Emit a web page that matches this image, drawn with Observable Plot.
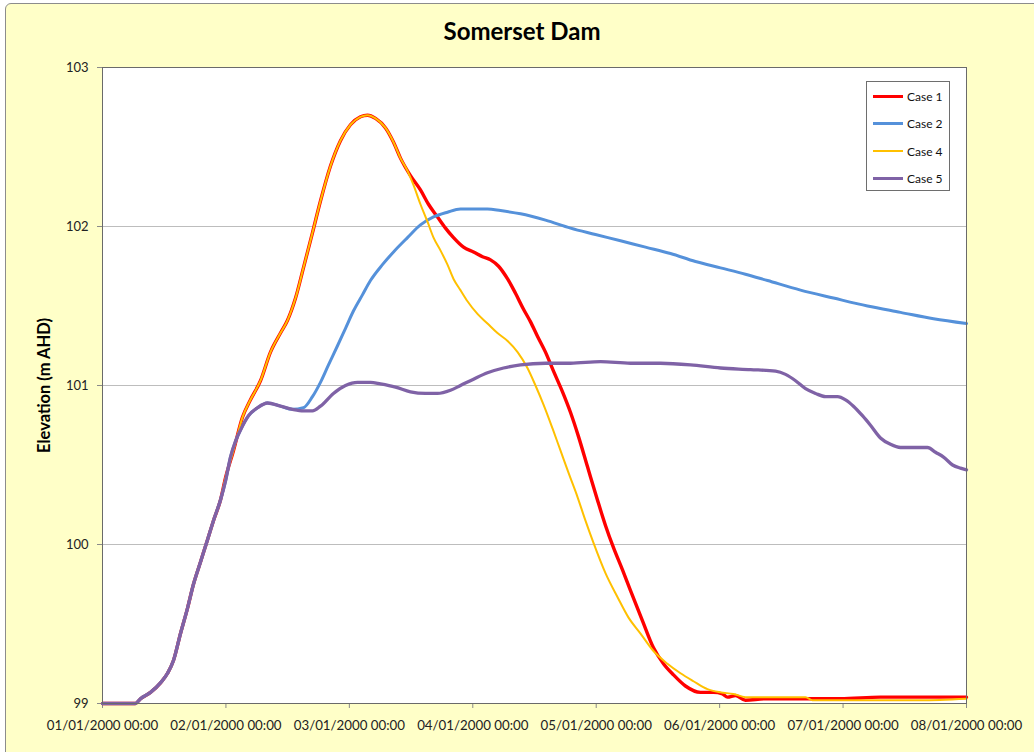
<!DOCTYPE html>
<html>
<head>
<meta charset="utf-8">
<script src="https://cdn.jsdelivr.net/npm/d3@7"></script>
<script src="https://cdn.jsdelivr.net/npm/@observablehq/plot@0.6"></script>
<style>
  html, body { margin: 0; padding: 0; width: 1034px; height: 752px; overflow: hidden; background: #ffffff; font-family: Lato, "Liberation Sans", sans-serif; }
  #bg { position: absolute; left: 5px; top: 3px; width: 1040px; height: 760px; background: #FFFFC8; border: 1px solid #8c8c8c; border-radius: 6px; }
  #title { position: absolute; left: 0; width: 1044px; top: 16px; text-align: center; font-size: 24px; font-weight: bold; color: #000; }
  #plot { position: absolute; left: 0; top: 50px; }
  #legend { position: absolute; left: 866px; top: 81px; width: 84px; height: 110px; background: #fff; border: 1px solid #6e6e6e; box-sizing: border-box; font-size: 12px; color: #111; }
  .row { position: absolute; left: 6px; height: 14px; display: flex; align-items: center; }
  .row span.sw { display: inline-block; width: 30px; margin-right: 4px; }
</style>
</head>
<body>
<div id="bg"></div>
<div id="title">Somerset Dam</div>
<div id="plot"></div>
<div id="legend"></div>
<script>
// ---- Data (days after 01/01/2000 00:00, elevation m AHD) ----
const seriesNames = ["Case 1", "Case 2", "Case 4", "Case 5"];
const seriesColors = ["#FF0000", "#5591DA", "#FFC000", "#7F62A6"];
const seriesWidths = [3.4, 3, 2, 3.3];

const case1Days = [0, 0.267, 0.308, 0.389, 0.470, 0.527, 0.575, 0.632, 0.689, 0.737, 0.794, 0.851, 0.899, 0.956,
  0.997, 1.061, 1.134, 1.199, 1.280, 1.361, 1.442, 1.499, 1.564, 1.628, 1.701, 1.766, 1.847, 1.928, 2.009, 2.090, 2.147, 2.212, 2.293, 2.358, 2.414,
  2.495, 2.576, 2.641, 2.714, 2.779, 2.844, 2.925, 3.006, 3.079, 3.144, 3.209, 3.282, 3.346, 3.411, 3.468, 3.524, 3.589, 3.654, 3.727, 3.792, 3.856, 3.929,
  4.010, 4.075, 4.140, 4.213, 4.278, 4.375, 4.464, 4.545, 4.626, 4.723, 4.845, 4.950, 5.023, 5.064, 5.128, 5.209, 5.371, 5.655, 5.979, 6.303, 6.708, 7.000];
const case1Elev = [99.00, 99.00, 99.03, 99.07, 99.13, 99.19, 99.27, 99.44, 99.60, 99.75, 99.89, 100.03, 100.15, 100.28,
  100.42, 100.59, 100.80, 100.91, 101.03, 101.21, 101.33, 101.41, 101.55, 101.74, 101.96, 102.16, 102.38, 102.54, 102.64, 102.69, 102.70, 102.68, 102.62, 102.53, 102.43,
  102.32, 102.23, 102.14, 102.06, 101.99, 101.93, 101.87, 101.84, 101.81, 101.79, 101.75, 101.67, 101.58, 101.48, 101.40, 101.31, 101.21, 101.09, 100.96, 100.83, 100.68, 100.49,
  100.28, 100.12, 99.98, 99.84, 99.71, 99.52, 99.35, 99.25, 99.18, 99.11, 99.07, 99.07, 99.06, 99.04, 99.05, 99.02, 99.03, 99.03, 99.03, 99.04, 99.04, 99.04];

const case2Days = [0, 0.267, 0.308, 0.389, 0.470, 0.527, 0.575, 0.632, 0.689, 0.737, 0.794, 0.851, 0.899, 0.956,
  0.997, 1.037, 1.078, 1.118, 1.183, 1.256, 1.337, 1.442, 1.539,
  1.628, 1.701, 1.766, 1.831, 1.904, 1.969, 2.034, 2.106, 2.171, 2.268, 2.358, 2.471, 2.576, 2.682, 2.795, 2.900, 3.006, 3.119, 3.225, 3.387,
  3.589, 3.792, 3.994, 4.197, 4.399, 4.602, 4.804, 5.007, 5.209, 5.388, 5.655, 5.922, 6.198, 6.465, 6.733, 7.000];
const case2Elev = [99.00, 99.00, 99.03, 99.07, 99.13, 99.19, 99.27, 99.44, 99.60, 99.75, 99.89, 100.03, 100.15, 100.28,
  100.40, 100.55, 100.65, 100.72, 100.81, 100.86, 100.89, 100.87, 100.85,
  100.86, 100.93, 101.02, 101.13, 101.25, 101.36, 101.47, 101.57, 101.66, 101.76, 101.84, 101.93, 102.01, 102.06, 102.09, 102.11, 102.11, 102.11, 102.10, 102.08,
  102.04, 101.99, 101.95, 101.91, 101.87, 101.83, 101.78, 101.74, 101.70, 101.66, 101.60, 101.55, 101.50, 101.46, 101.42, 101.39];

const case4Days = [0, 0.267, 0.308, 0.389, 0.470, 0.527, 0.575, 0.632, 0.689, 0.737, 0.794, 0.851, 0.899, 0.956,
  0.997, 1.061, 1.134, 1.199, 1.280, 1.361, 1.442, 1.499, 1.564, 1.628, 1.701, 1.766, 1.847, 1.928, 2.009, 2.090, 2.147, 2.212, 2.293, 2.358, 2.414,
  2.471, 2.520, 2.576, 2.633, 2.682, 2.738, 2.795, 2.844, 2.900, 2.957, 3.038, 3.119, 3.200, 3.282, 3.363, 3.443, 3.508, 3.573, 3.646, 3.711, 3.776, 3.848, 3.913, 3.978,
  4.075, 4.172, 4.262, 4.359, 4.464, 4.577, 4.683, 4.788, 4.901, 5.007, 5.112, 5.209, 5.331, 5.493, 5.696, 5.752, 6.141, 6.627, 7.000];
const case4Elev = [99.00, 99.00, 99.03, 99.07, 99.13, 99.19, 99.27, 99.44, 99.60, 99.75, 99.89, 100.03, 100.15, 100.28,
  100.42, 100.59, 100.80, 100.91, 101.03, 101.21, 101.33, 101.41, 101.55, 101.74, 101.96, 102.16, 102.38, 102.54, 102.64, 102.69, 102.70, 102.68, 102.62, 102.53, 102.43,
  102.35, 102.26, 102.14, 102.03, 101.93, 101.85, 101.76, 101.67, 101.60, 101.53, 101.45, 101.39, 101.33, 101.28, 101.21, 101.11, 101.00, 100.88, 100.73, 100.59, 100.45, 100.30, 100.15, 100.01,
  99.82, 99.67, 99.54, 99.44, 99.33, 99.25, 99.19, 99.14, 99.09, 99.07, 99.06, 99.04, 99.04, 99.04, 99.04, 99.02, 99.02, 99.02, 99.03];

const case5Days = [0, 0.267, 0.308, 0.389, 0.470, 0.527, 0.575, 0.632, 0.689, 0.737, 0.794, 0.851, 0.899, 0.956,
  0.997, 1.037, 1.078, 1.118, 1.183, 1.256, 1.337, 1.442, 1.539, 1.628, 1.701, 1.766, 1.871, 1.969, 2.066, 2.171, 2.252, 2.374, 2.495, 2.617, 2.714,
  2.819, 2.900, 3.006, 3.119, 3.249, 3.387, 3.589, 3.792, 4.035, 4.278, 4.521, 4.764, 5.007, 5.250, 5.453, 5.534, 5.615, 5.696, 5.777, 5.858, 5.955,
  6.020, 6.084, 6.157, 6.222, 6.303, 6.384, 6.465, 6.587, 6.684, 6.749, 6.814, 6.887, 6.951, 7.000];
const case5Elev = [99.00, 99.00, 99.03, 99.07, 99.13, 99.19, 99.27, 99.44, 99.60, 99.75, 99.89, 100.03, 100.15, 100.28,
  100.40, 100.55, 100.65, 100.72, 100.81, 100.86, 100.89, 100.87, 100.85, 100.84, 100.84, 100.87, 100.95, 101.00, 101.02, 101.02, 101.01, 100.99, 100.96, 100.95, 100.95,
  100.97, 101.00, 101.04, 101.08, 101.11, 101.13, 101.14, 101.14, 101.15, 101.14, 101.14, 101.13, 101.11, 101.10, 101.09, 101.07, 101.03, 100.98, 100.95, 100.93, 100.93,
  100.91, 100.87, 100.81, 100.75, 100.67, 100.63, 100.61, 100.61, 100.61, 100.58, 100.55, 100.50, 100.48, 100.47];

const yTicks = [99, 100, 101, 102, 103];
const yGrid = [100, 101, 102];
const xTickDays = [0, 1, 2, 3, 4, 5, 6, 7];

// ---- Build ----
const start = Date.UTC(2000, 0, 1);
const toDate = d => new Date(start + d * 86400000);
const allDays = [case1Days, case2Days, case4Days, case5Days];
const allElev = [case1Elev, case2Elev, case4Elev, case5Elev];
const rows = [];
allDays.forEach((days, i) => days.forEach((d, j) => rows.push({series: seriesNames[i], date: toDate(d), elev: allElev[i][j]})));

const fmt = d3.utcFormat("%d/%m/%Y %H:%M");

const marks = [
  Plot.frame({fill: "#ffffff", stroke: null}),
  Plot.gridY(yGrid, {stroke: "#bdbdbd", strokeOpacity: 1, strokeWidth: 1}),
  Plot.axisY({ticks: yTicks, tickSize: 5, tickPadding: 9, stroke: "#8a8a8a", tickFormat: d => String(d), label: null, fontSize: 13, fill: "#222"}),
  Plot.axisX({ticks: xTickDays.map(toDate), tickSize: 5, tickPadding: 12, stroke: "#8a8a8a", tickFormat: fmt, label: null, fontSize: 13.3, fill: "#222"}),
  ...seriesNames.map((name, i) => Plot.line(rows.filter(r => r.series === name), {
    x: "date", y: "elev", stroke: seriesColors[i], strokeWidth: seriesWidths[i], curve: "monotone-x"
  })),
  Plot.frame({stroke: "#6a6a6a", strokeWidth: 1}),
  Plot.text(["Elevation (m AHD)"], {frameAnchor: "left", textAnchor: "middle", rotate: -90, dx: -58, fontSize: 16.5, fontWeight: "bold", fill: "#000"})
];

const chart = Plot.plot({
  width: 1034,
  height: 700,
  marginLeft: 102,
  marginRight: 68,
  marginTop: 17,
  marginBottom: 47,
  style: {background: "transparent", fontFamily: "Lato, 'Liberation Sans', sans-serif", overflow: "visible"},
  x: {type: "utc", domain: [toDate(0), toDate(7)]},
  y: {domain: [99, 103]},
  marks
});
document.getElementById("plot").appendChild(chart);

// Legend
const legend = document.getElementById("legend");
seriesNames.forEach((name, i) => {
  const row = document.createElement("div");
  row.className = "row";
  row.style.top = (7 + i * 27.5) + "px";
  const sw = document.createElement("span");
  sw.className = "sw";
  sw.style.height = Math.min(3, seriesWidths[i]) + "px";
  sw.style.background = seriesColors[i];
  row.appendChild(sw);
  const t = document.createElement("span");
  t.textContent = name;
  row.appendChild(t);
  legend.appendChild(row);
});
</script>
</body>
</html>
